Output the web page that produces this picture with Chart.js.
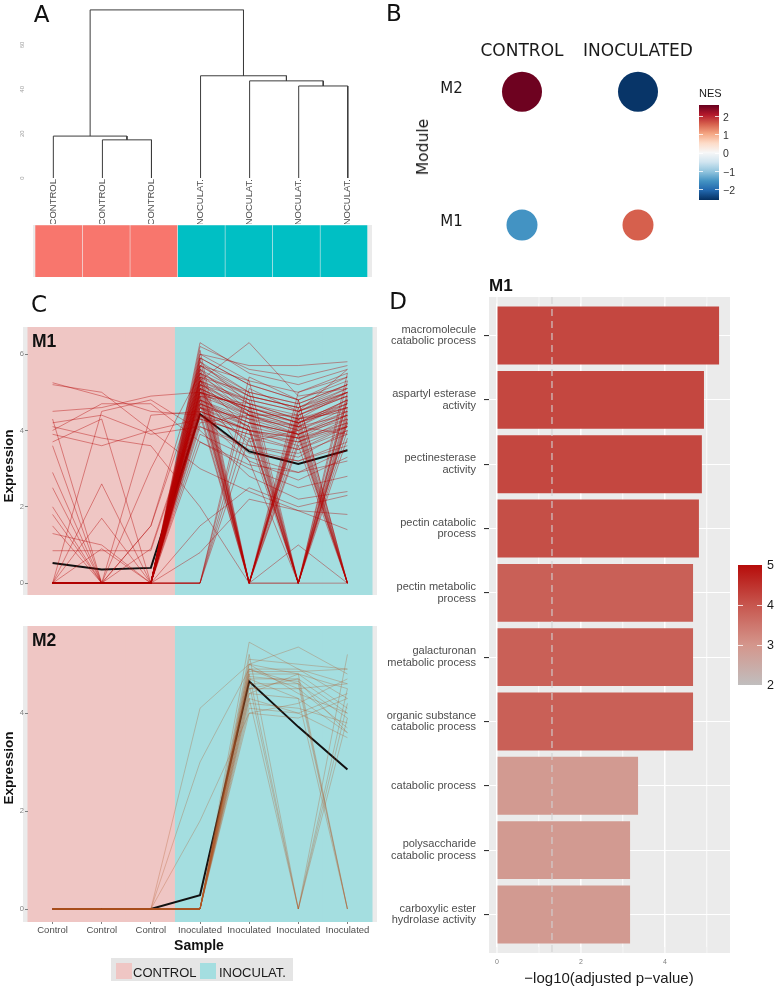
<!DOCTYPE html>
<html>
<head>
<meta charset="utf-8">
<script src="https://cdn.jsdelivr.net/npm/chart.js@4.4.0/dist/chart.umd.min.js"></script>
<style>
body { margin: 0; background: #fff; }
#wrap { position: relative; width: 777px; height: 987px; overflow: hidden; font-family: "Liberation Sans", Arial, sans-serif; color: #1a1a1a; }
canvas { position: absolute; }
.t { position: absolute; white-space: nowrap; line-height: 1; }
</style>
</head>
<body>
<div id="wrap">
  <canvas id="cA" style="left:0;top:0" width="400" height="224"></canvas>
  <canvas id="cStrip" style="left:33px;top:225px" width="339" height="52"></canvas>
  <canvas id="cB" style="left:390px;top:0" width="330" height="280"></canvas>
  <canvas id="cM1" style="left:0;top:320px" width="385" height="303"></canvas>
  <canvas id="cM2" style="left:0;top:620px" width="385" height="330"></canvas>
  <canvas id="cD" style="left:385px;top:280px" width="362" height="688"></canvas>
</div>
<script>
// ---------------- data ----------------
const sampleLabels = ['Control', 'Control', 'Control', 'Inoculated', 'Inoculated', 'Inoculated', 'Inoculated'];
const sampleGroup = ['CONTROL', 'CONTROL', 'CONTROL', 'INOCULAT.', 'INOCULAT.', 'INOCULAT.', 'INOCULAT.'];

// A: dendrogram, leaves 0-6, merged nodes get ids 7, 8, ...
const leafLabels = ['CONTROL', 'CONTROL', 'CONTROL', 'INOCULAT.', 'INOCULAT.', 'INOCULAT.', 'INOCULAT.'];
const mergeLeft = [1, 0, 5, 4, 3, 8];
const mergeRight = [2, 7, 6, 9, 10, 11];
const mergeHeight = [17.2, 18.9, 41.5, 43.8, 46.1, 75.8];
const dendroTicks = [0, 20, 40, 60];

// B: NES per module
const nesColumns = ['CONTROL', 'INOCULATED'];
const nesRows = ['M1', 'M2'];
const nesM1 = [-1.56, 1.56];
const nesM2 = [2.55, -2.55];
const sigM1 = [1.55, 1.55];
const sigM2 = [2.0, 2.0];
const nesTicks = [2, 1, 0, -1, -2];

// C: module gene profiles (Control x3, Inoculated x4)
const m1Genes = [
  [0,0,0,5.9,5.2,4.8,5.4], [0,0,0,5.6,4.9,4.6,5.1], [0,0,0,5.3,4.7,4.4,4.9], [0,0,0,5.1,4.5,4.2,4.6],
  [0,0,0,4.9,4.4,4.0,4.5], [0,0,0,4.7,4.2,3.9,4.3], [0,0,0,4.5,4.0,3.7,4.1], [0,0,0,6.2,5.6,5.4,5.7],
  [0,0,0,6.0,5.7,5.7,5.8], [0,0,0,5.7,5.3,5.0,5.5], [0,0,0,5.4,5.0,4.7,5.2], [0,0,0,5.2,4.8,4.5,4.9],
  [0,0,0,5.0,4.6,4.3,4.7], [0,0,0,4.8,4.3,4.1,4.4], [0,0,0,4.6,4.1,3.8,4.2], [0,0,0,4.3,3.9,3.5,4.0],
  [0,0,0,5.5,4.4,4.1,4.8], [0,0,0,5.8,4.7,4.3,5.0], [0,0,0,4.1,3.5,3.2,3.7], [0,0,0,3.9,3.3,2.9,3.5],
  [0,0,0,5.3,6.3,4.9,5.1], [0,0,0,4.4,3.2,2.7,3.3], [0,0,0,3.7,3.0,2.5,2.8], [0,0,0,5.0,3.6,3.3,4.0],
  [0,0,0,6.3,5.5,5.2,5.6],
  [0,0,0,0,4.6,4.2,4.7], [0,0,0,0,5.1,4.5,5.0], [0,0,0,0,4.2,3.9,4.4], [0,0,0,0,3.8,3.5,4.1],
  [0,0,0,0,5.4,4.8,5.3], [0,0,0,0.8,2.2,1.9,1.8],
  [0,0,0,5.6,0,4.6,5.2], [0,0,0,5.3,0,4.4,4.9], [0,0,0,5.0,0,4.2,4.6], [0,0,0,4.8,0,3.9,4.4],
  [0,0,0,5.9,0,5.0,5.4], [0,0,0,4.5,0,3.6,4.1], [0,0,0,5.4,0,0,4.8], [0,0,0,5.1,0,4.8,0],
  [0,0,0,4.7,0,4.4,5.0], [0,0,0,6.1,0,4.5,5.6], [0,0,0,5.2,0,3.7,4.3], [0,0,0,4.4,0,4.1,3.9],
  [0,0,0,5.7,0,4.3,4.5], [0,0,0,4.9,0,0,4.2],
  [0,0,0,5.5,4.8,0,5.0], [0,0,0,5.2,4.6,0,4.8], [0,0,0,5.0,4.3,0,4.5], [0,0,0,4.7,4.1,0,4.3],
  [0,0,0,5.8,5.0,0,5.3], [0,0,0,4.4,3.8,0,4.0], [0,0,0,6.0,5.3,0,5.5], [0,0,0,5.3,4.4,0,0],
  [0,0,0,4.9,4.7,0,4.6], [0,0,0,5.6,4.5,0,4.9], [0,0,0,4.6,4.0,0,3.8], [0,0,0,5.1,3.2,0,4.4],
  [0,0,0,5.4,4.7,4.3,0], [0,0,0,5.1,4.5,4.1,0], [0,0,0,4.8,4.2,3.9,0], [0,0,0,5.7,4.9,4.6,0],
  [0,0,0,4.5,4.0,3.6,0], [0,0,0,5.9,5.2,4.8,0], [0,0,0,5.0,4.4,4.4,0], [0,0,0,5.3,4.0,3.8,0],
  [0,0,0,4.6,3.7,4.0,0], [0,0,0,5.5,0,4.2,0],
  [5.25,4.9,4.5,4.4,3.4,3.2,3.6], [4.5,4.6,4.9,5.0,4.6,4.2,4.8], [4.2,4.4,3.9,4.1,3.6,3.4,3.9],
  [4.0,4.7,4.7,3.7,3.1,2.9,3.2], [3.9,3.6,4.0,4.3,3.9,3.7,4.2], [4.3,0,4.4,4.5,4.0,3.8,4.1],
  [3.7,4.3,0,4.2,4.4,3.9,4.5], [5.2,5.0,4.0,3.0,2.4,1.9,1.4], [0,4.5,4.8,4.0,2.8,2.2,2.4],
  [4.1,3.8,3.6,2.0,0,1.0,0],
  [2.0,0,0,5.1,4.4,4.0,4.6], [1.8,0,0.9,4.8,4.1,0,4.3], [2.9,0,0,5.4,0,4.5,5.0], [0,1.7,0,4.6,4.3,3.9,0],
  [0,2.6,0,5.0,4.6,4.2,4.8], [1.5,0,1.5,5.3,4.8,4.5,5.1], [0,0,1.5,5.7,5.0,4.7,5.2], [0,0.9,0,4.9,0,4.3,4.6],
  [2.5,0,0,4.4,4.0,0,4.2], [1.3,1.0,0,5.2,4.5,4.1,4.7], [0.85,0.85,0.85,4.7,4.2,3.8,4.4], [0,0,3.0,5.5,4.9,4.6,5.0],
  [3.6,0,0,1.5,2.5,2.0,2.3]
];
const m1Mean = [0.53, 0.36, 0.4, 4.43, 3.45, 3.12, 3.48];

const m2Genes = [
  [0,0,0,0,5.45,4.9,4.6], [0,0,0,0,5.1,5.0,4.9], [0,0,0,0,5.0,4.8,4.5], [0,0,0,0,4.9,4.9,4.3],
  [0,0,0,0,4.8,4.8,4.1], [0,0,0,0,4.7,4.7,4.0], [0,0,0,0,4.6,4.6,3.9], [0,0,0,0,4.5,4.5,3.7],
  [0,0,0,0,4.4,4.3,3.6], [0,0,0,0,4.3,4.0,3.5], [0,0,0,0,4.2,4.1,3.8], [0,0,0,0,4.1,4.0,4.4],
  [0,0,0,0,4.0,4.2,4.7], [0,0,0,0,5.0,5.35,4.8], [0,0,0,0,4.8,0,4.5], [0,0,0,0,4.6,0,4.2],
  [0,0,0,0,5.2,0,5.2], [0,0,0,0,4.9,4.6,0], [0,0,0,0,4.5,4.7,0], [0,0,0,0,4.7,4.3,0],
  [0,0,0,4.1,5.0,4.4,4.0], [0,0,0,3.0,4.9,4.5,4.6], [0,0,0,1.8,4.0,3.9,4.3], [0,0,0,0,4.4,4.8,0],
  [0,0,0,0,4.3,0,3.9], [0,0,0,0,4.85,4.85,4.9], [0,0,0,0,4.75,4.65,3.6]
];
const m2Mean = [0, 0, 0, 0.28, 4.65, 3.72, 2.85];

// D: GO enrichment for M1
const goTerms = [
  ['macromolecule', 'catabolic process'], ['aspartyl esterase', 'activity'], ['pectinesterase', 'activity'],
  ['pectin catabolic', 'process'], ['pectin metabolic', 'process'], ['galacturonan', 'metabolic process'],
  ['organic substance', 'catabolic process'], 'catabolic process', ['polysaccharide', 'catabolic process'],
  ['carboxylic ester', 'hydrolase activity']
];
const goScore = [5.29, 4.93, 4.88, 4.81, 4.67, 4.67, 4.67, 3.36, 3.17, 3.17];
const goFill = [4.2, 4.2, 4.2, 4.1, 3.85, 3.85, 3.85, 2.9, 2.9, 2.9];
const goFillTicks = [5, 4, 3, 2];
const pCutoff = 1.31;

// ---------------- colours ----------------
const groupBg = { 'CONTROL': '#EFC6C4', 'INOCULAT.': '#A4DEE0' };
const groupStrip = { 'CONTROL': '#F8766D', 'INOCULAT.': '#00BFC4' };
const rdbu = ['#67001F', '#B2182B', '#D6604D', '#F4A582', '#FDDBC7', '#F7F7F7', '#D1E5F0', '#92C5DE', '#4393C3', '#2166AC', '#053061'];
const nesMax = 2.6, nesMin = -2.6;
const fillStops = [[2, [192, 190, 190]], [3, [212, 150, 140]], [4, [199, 86, 78]], [5, [182, 12, 10]]];

function hexRgb(h) { return [1, 3, 5].map(i => parseInt(h.substr(i, 2), 16)); }
function mix(a, b, t) { return a.map((v, i) => Math.round(v + (b[i] - v) * t)); }
function nesColor(v) {
  const p = Math.max(0, Math.min(10, (nesMax - v) / (nesMax - nesMin) * 10));
  const i = Math.min(9, Math.floor(p));
  const c = mix(hexRgb(rdbu[i]), hexRgb(rdbu[i + 1]), p - i);
  return `rgb(${c})`;
}
function fillColor(v) {
  for (let i = 0; i < fillStops.length - 1; i++) {
    const [a, ca] = fillStops[i], [b, cb] = fillStops[i + 1];
    if (v <= b || i === fillStops.length - 2) {
      const c = mix(ca, cb, Math.max(0, Math.min(1, (v - a) / (b - a))));
      return `rgb(${c})`;
    }
  }
}

Chart.defaults.font.family = '"Liberation Sans", Arial, sans-serif';
Chart.defaults.animation = false;
Chart.defaults.layout.autoPadding = false;
Chart.defaults.plugins.legend.display = false;
Chart.defaults.plugins.tooltip.enabled = false;

const wrap = document.getElementById('wrap');
function addText(txt, x, y, css, anchor, rot) {
  const d = document.createElement('div');
  d.className = 't';
  d.textContent = txt;
  const tx = anchor === 'left' ? '0' : anchor === 'right' ? '-100%' : '-50%';
  d.style.cssText = `left:${x}px;top:${y}px;transform:translate(${tx},-50%)${rot ? ' rotate(' + rot + 'deg)' : ''};` + css;
  wrap.appendChild(d);
  return d;
}

// ---------------- A: dendrogram ----------------
const nodeX = leafLabels.map((_, i) => i + 1);
const nodeH = leafLabels.map(() => 0);
const dendroSets = mergeHeight.map((h, k) => {
  const l = mergeLeft[k], r = mergeRight[k];
  nodeX.push((nodeX[l] + nodeX[r]) / 2);
  nodeH.push(h);
  return {
    data: [{ x: nodeX[l], y: nodeH[l] }, { x: nodeX[l], y: h }, { x: nodeX[r], y: h }, { x: nodeX[r], y: nodeH[r] }],
    borderColor: '#3c3c3c', borderWidth: 1, pointRadius: 0, tension: 0
  };
});

const dendroLabels = {
  id: 'dendroLabels',
  afterDraw(chart) {
    const { ctx, scales: { x, y } } = chart;
    ctx.save();
    ctx.fillStyle = '#4D4D4D';
    ctx.font = '9.5px "Liberation Sans", Arial';
    ctx.textAlign = 'right';
    ctx.textBaseline = 'middle';
    leafLabels.forEach((t, i) => {
      ctx.save();
      ctx.translate(x.getPixelForValue(i + 1), y.getPixelForValue(0) + 1);
      ctx.rotate(-Math.PI / 2);
      ctx.fillText(t, 0, 0);
      ctx.restore();
    });
    ctx.fillStyle = '#A0A0A0';
    ctx.font = '6px "Liberation Sans", Arial';
    ctx.textAlign = 'center';
    dendroTicks.forEach(v => {
      ctx.save();
      ctx.translate(22, y.getPixelForValue(v));
      ctx.rotate(-Math.PI / 2);
      ctx.fillText(String(v), 0, 0);
      ctx.restore();
    });
    ctx.restore();
  }
};

new Chart(document.getElementById('cA'), {
  type: 'line',
  data: { datasets: dendroSets },
  options: {
    responsive: false,
    layout: { padding: { left: 28.8, right: 27.7, top: 0.6, bottom: 46 } },
    scales: {
      x: { type: 'linear', min: 0.5, max: 7.5, display: false },
      y: { min: 0, max: 80, display: false }
    }
  },
  plugins: [dendroLabels]
});

// colour strip under the dendrogram
const greyCanvas = {
  id: 'greyCanvas',
  beforeDraw(chart) {
    chart.ctx.save();
    chart.ctx.fillStyle = '#EBEBEB';
    chart.ctx.fillRect(0, 0, chart.width, chart.height);
    chart.ctx.restore();
  }
};
new Chart(document.getElementById('cStrip'), {
  type: 'bar',
  data: {
    labels: leafLabels,
    datasets: [{
      data: leafLabels.map(() => 1),
      backgroundColor: sampleGroup.map(g => groupStrip[g]),
      borderColor: 'rgba(255,255,255,0.2)', borderWidth: 0.6,
      barPercentage: 1, categoryPercentage: 1
    }]
  },
  options: {
    responsive: false,
    layout: { padding: { left: 2, right: 4.3, top: 0, bottom: 0 } },
    scales: { x: { display: false }, y: { min: 0, max: 1, display: false } }
  },
  plugins: [greyCanvas]
});

// ---------------- B: NES dot plot ----------------
const nesPoints = [];
nesColumns.forEach((c, i) => {
  nesPoints.push({ x: i + 1, y: 1, r: sigM1[i] * 10, nes: nesM1[i] });
  nesPoints.push({ x: i + 1, y: 2, r: sigM2[i] * 10, nes: nesM2[i] });
});
const nesLabels = {
  id: 'nesLabels',
  afterDraw(chart) {
    const { ctx, scales: { x, y } } = chart;
    ctx.save();
    ctx.fillStyle = '#1A1A1A';
    ctx.textBaseline = 'middle';
    ctx.textAlign = 'center';
    ctx.font = '17px "DejaVu Sans", sans-serif';
    nesColumns.forEach((c, i) => ctx.fillText(c, x.getPixelForValue(i + 1), 52));
    ctx.textAlign = 'right';
    ctx.font = '15px "DejaVu Sans", sans-serif';
    nesRows.forEach((m, i) => ctx.fillText(m, 72.7, y.getPixelForValue(i + 1) - 3));
    ctx.restore();
  }
};
new Chart(document.getElementById('cB'), {
  type: 'bubble',
  data: {
    datasets: [{
      data: nesPoints,
      backgroundColor: nesPoints.map(p => nesColor(p.nes)),
      borderWidth: 0
    }]
  },
  options: {
    responsive: false,
    layout: { padding: { left: 85.6, right: 35.6, top: 38.4, bottom: 1.7 } },
    scales: {
      x: { type: 'linear', min: 0.6, max: 2.4, display: false },
      y: { type: 'linear', min: 0.6, max: 2.4, display: false }
    }
  },
  plugins: [nesLabels]
});
addText('Module', 423, 147, 'font:15.5px "DejaVu Sans",sans-serif;', 'center', -90);

// NES colour bar
(function () {
  const top = 105, h = 95, zeroY = 153.3, pxPerUnit = 18.33;
  const stops = rdbu.map((c, i) => `${c} ${(i * 10).toFixed(0)}%`).join(',');
  const bar = document.createElement('div');
  bar.style.cssText = `position:absolute;left:699px;top:${top}px;width:19.5px;height:${h}px;background:linear-gradient(to bottom,${stops});`;
  wrap.appendChild(bar);
  nesTicks.forEach(v => {
    const y = zeroY - v * pxPerUnit;
    addText(v < 0 ? '\u2212' + Math.abs(v) : String(v), 723, y, 'font:10.5px "Liberation Sans",Arial;color:#333;', 'left');
    ['699px', '714.5px'].forEach(l => {
      const tk = document.createElement('div');
      tk.style.cssText = `position:absolute;left:${l};top:${y - 0.5}px;width:4px;height:1px;background:rgba(255,255,255,0.8);`;
      wrap.appendChild(tk);
    });
  });
  addText('NES', 699, 93, 'font:11px "Liberation Sans",Arial;color:#1A1A1A;', 'left');
})();

// ---------------- C: module expression profiles ----------------
const groupBands = {
  id: 'groupBands',
  beforeDraw(chart) {
    const { ctx, chartArea: a, scales: { x } } = chart;
    const half = (a.right - a.left) / sampleLabels.length / 2;
    ctx.save();
    ctx.fillStyle = '#EBEBEB';
    ctx.fillRect(a.left - 5, a.top, a.right - a.left + 10, a.bottom - a.top);
    sampleGroup.forEach((g, i) => {
      const cx = x.getPixelForTick(i);
      ctx.fillStyle = groupBg[g];
      ctx.fillRect(cx - half - 0.5, a.top, 2 * half + 1, a.bottom - a.top);
    });
    ctx.restore();
  }
};

function profileChart(id, genes, mean, lineColor, yMin, yMax, showX, padTop) {
  const sets = genes.map(g => ({
    data: g, borderColor: lineColor, borderWidth: 1, pointRadius: 0, tension: 0
  }));
  sets.push({ data: mean, borderColor: '#111111', borderWidth: 2, pointRadius: 0, tension: 0 });
  return new Chart(document.getElementById(id), {
    type: 'line',
    data: { labels: sampleLabels, datasets: sets },
    options: {
      responsive: false,
      layout: { padding: { left: 0, right: 13, top: padTop, bottom: 0 } },
      scales: {
        x: {
          offset: true,
          display: showX,
          afterFit: s => { s.height = 28; },
          border: { display: false },
          grid: { drawOnChartArea: false, tickLength: 2, tickColor: '#7F7F7F' },
          ticks: { color: '#4D4D4D', font: { size: 9.5 }, padding: 1, autoSkip: false, maxRotation: 0 }
        },
        y: {
          min: yMin, max: yMax,
          afterFit: s => { s.width = 28; },
          border: { display: false },
          grid: { drawOnChartArea: false, tickLength: 3, tickColor: '#7F7F7F' },
          ticks: { stepSize: 2, includeBounds: false, color: '#7F7F7F', font: { size: 7.5 }, padding: 1 }
        }
      }
    },
    plugins: [groupBands]
  });
}
profileChart('cM1', m1Genes, m1Mean, 'rgba(180,0,0,0.4)', -0.31, 6.71, false, 7);
profileChart('cM2', m2Genes, m2Mean, 'rgba(175,85,35,0.3)', -0.265, 5.78, true, 6);

addText('M1', 32, 341, 'font:bold 17.5px "Liberation Sans",Arial;color:#111;', 'left');
addText('M2', 32, 640, 'font:bold 17.5px "Liberation Sans",Arial;color:#111;', 'left');
addText('Expression', 7.5, 466, 'font:bold 13.5px "Liberation Sans",Arial;color:#111;', 'center', -90);
addText('Expression', 7.5, 768, 'font:bold 13.5px "Liberation Sans",Arial;color:#111;', 'center', -90);
addText('Sample', 199, 945, 'font:bold 14px "Liberation Sans",Arial;color:#111;', 'center');

// legend for sample groups
(function () {
  const box = document.createElement('div');
  box.style.cssText = 'position:absolute;left:111px;top:958px;width:182px;height:23px;background:#E5E5E5;';
  wrap.appendChild(box);
  const keys = [['CONTROL', 116, 133], ['INOCULAT.', 200, 219]];
  keys.forEach(([g, sx, tx]) => {
    const sq = document.createElement('div');
    sq.style.cssText = `position:absolute;left:${sx}px;top:963px;width:16px;height:16px;background:${groupBg[g]};`;
    wrap.appendChild(sq);
    addText(g, tx, 972, 'font:13px "Liberation Sans",Arial;color:#1A1A1A;', 'left');
  });
})();

// ---------------- D: GO enrichment bars ----------------
// ggplot pads a discrete axis by 0.6 of a step; the chart area keeps 0.5, the grey panel adds the rest
const panelGrey = {
  id: 'panelGrey',
  beforeDraw(chart) {
    const { ctx, chartArea: a, scales: { x, y } } = chart;
    const ext = (a.bottom - a.top) / y.ticks.length * 0.1;
    ctx.save();
    ctx.fillStyle = '#EBEBEB';
    ctx.fillRect(a.left, a.top - ext, a.right - a.left, a.bottom - a.top + 2 * ext);
    ctx.strokeStyle = '#FFFFFF';
    x.ticks.forEach(t => {
      const px = x.getPixelForValue(t.value);
      ctx.lineWidth = t.value % 2 === 0 ? 1.1 : 0.5;
      ctx.beginPath();
      ctx.moveTo(px, a.top - ext);
      ctx.lineTo(px, a.bottom + ext);
      ctx.stroke();
    });
    ctx.restore();
  }
};
const cutoffLine = {
  id: 'cutoffLine',
  afterDatasetsDraw(chart) {
    const { ctx, chartArea: a, scales: { x, y } } = chart;
    const ext = (a.bottom - a.top) / y.ticks.length * 0.1;
    const px = x.getPixelForValue(pCutoff);
    ctx.save();
    ctx.strokeStyle = 'rgba(210,210,210,0.9)';
    ctx.lineWidth = 1.2;
    ctx.setLineDash([7, 5]);
    ctx.beginPath();
    ctx.moveTo(px, a.top - ext);
    ctx.lineTo(px, a.bottom + ext);
    ctx.stroke();
    ctx.restore();
  }
};
new Chart(document.getElementById('cD'), {
  type: 'bar',
  data: {
    labels: goTerms,
    datasets: [{
      data: goScore,
      backgroundColor: goFill.map(fillColor),
      borderWidth: 0,
      barPercentage: 0.9, categoryPercentage: 1
    }]
  },
  options: {
    responsive: false,
    indexAxis: 'y',
    layout: { padding: { left: 0, right: 17, top: 23.4, bottom: 0 } },
    scales: {
      x: {
        min: -0.19, max: 5.55,
        afterFit: s => { s.height = 21.4; },
        border: { display: false },
        grid: {
          color: '#FFFFFF',
          lineWidth: c => (c.tick && c.tick.value % 2 === 0 ? 1.1 : 0.5),
          drawTicks: false
        },
        ticks: {
          stepSize: 1, includeBounds: false, color: '#7F7F7F', font: { size: 7 }, padding: 11,
          callback: v => (v % 2 === 0 ? v : '')
        }
      },
      y: {
        afterFit: s => { s.width = 104; },
        border: { display: false },
        grid: { offset: false, color: '#FFFFFF', lineWidth: 1.1, tickLength: 5, tickColor: '#333333' },
        ticks: { color: '#4D4D4D', font: { size: 11, lineHeight: 1.05 }, padding: 8 }
      }
    }
  },
  plugins: [panelGrey, cutoffLine]
});
addText('M1', 489, 286, 'font:bold 17px "Liberation Sans",Arial;color:#111;', 'left');
addText('\u2212log10(adjusted p\u2212value)', 609, 976.5, 'font:15px "Liberation Sans",Arial;color:#1A1A1A;', 'center');

// fill colour bar
(function () {
  const top = 565, bottom = 685, left = 738, w = 24;
  const vMax = goFillTicks[0], vMin = goFillTicks[goFillTicks.length - 1];
  const stops = fillStops.slice().reverse().map(([v, c]) => `rgb(${c}) ${((vMax - v) / (vMax - vMin) * 100).toFixed(1)}%`).join(',');
  const bar = document.createElement('div');
  bar.style.cssText = `position:absolute;left:${left}px;top:${top}px;width:${w}px;height:${bottom - top}px;background:linear-gradient(to bottom,${stops});`;
  wrap.appendChild(bar);
  goFillTicks.forEach(v => {
    const y = top + (vMax - v) / (vMax - vMin) * (bottom - top);
    addText(String(v), 767, y, 'font:12.5px "Liberation Sans",Arial;color:#1A1A1A;', 'left');
    if (v !== vMax && v !== vMin) {
      [left, left + w - 5].forEach(l => {
        const tk = document.createElement('div');
        tk.style.cssText = `position:absolute;left:${l}px;top:${y - 0.5}px;width:5px;height:1px;background:rgba(255,255,255,0.8);`;
        wrap.appendChild(tk);
      });
    }
  });
})();

// panel letters
addText('A', 41.5, 14, 'font:23px "DejaVu Sans",sans-serif;color:#111;', 'center');
addText('B', 394, 13, 'font:23px "DejaVu Sans",sans-serif;color:#111;', 'center');
addText('C', 39, 304, 'font:23px "DejaVu Sans",sans-serif;color:#111;', 'center');
addText('D', 398, 301, 'font:23px "DejaVu Sans",sans-serif;color:#111;', 'center');
</script>
</body>
</html>
